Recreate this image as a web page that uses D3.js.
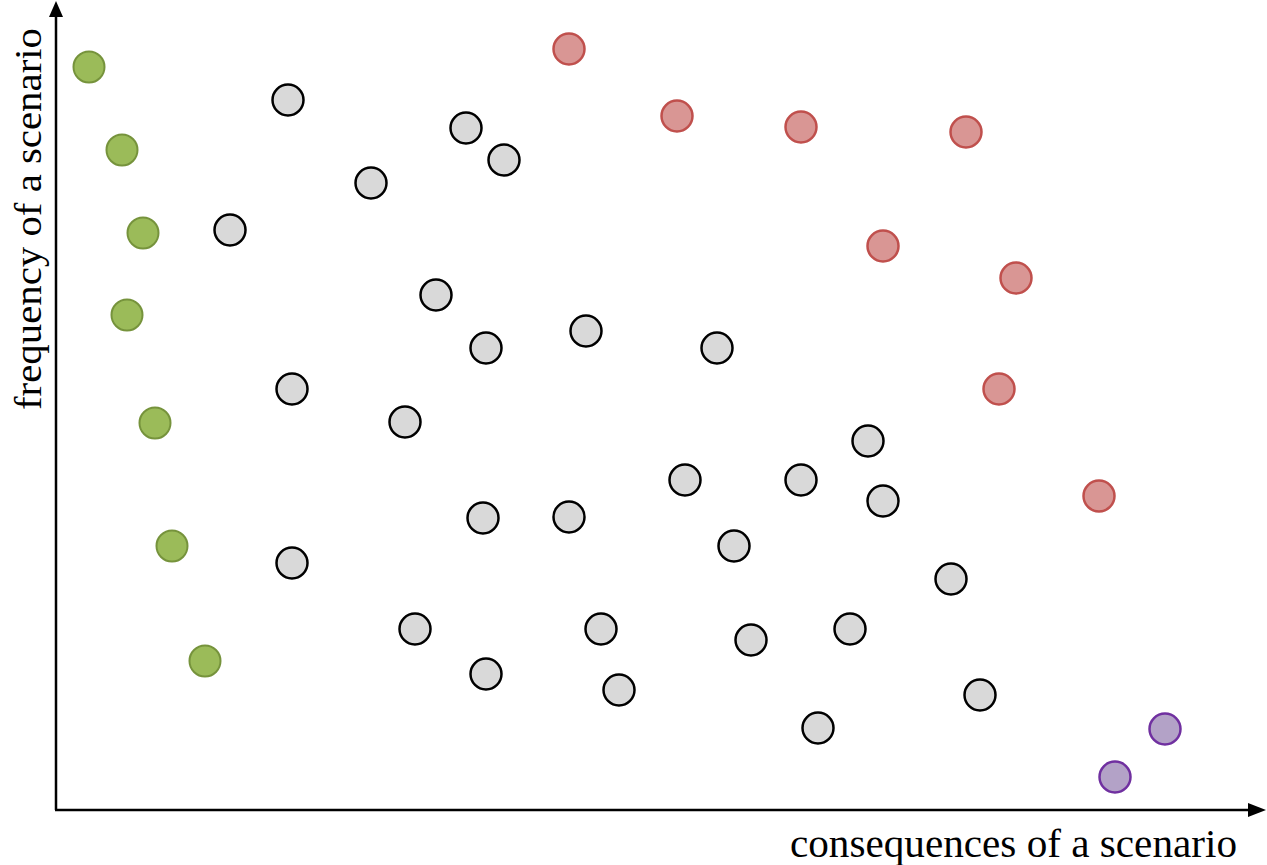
<!DOCTYPE html>
<html><head><meta charset="utf-8">
<script src="https://cdn.jsdelivr.net/npm/d3@7"></script>
<style>body{margin:0;background:#fff}svg{display:block}</style>
</head><body>
<svg id="c" width="1267" height="865"></svg>
<script>
// consequences (x) and frequency (y) in arbitrary units
const greenX = [33, 66, 87, 71, 99, 116, 149];
const greenY = [743, 660, 577, 495, 387, 264, 149];
const redX = [513, 621, 745, 910, 827, 960, 943, 1043];
const redY = [761, 694, 683, 678, 564, 532, 421, 314];
const purpleX = [1109, 1059];
const purpleY = [81, 33];
const grayX = [232, 410, 448, 315, 174, 380, 430, 530, 661, 236, 349, 812, 629, 745, 827, 427, 513, 678, 236, 895, 359, 545, 794, 695, 430, 563, 924, 762];
const grayY = [710, 682, 650, 627, 580, 515, 462, 479, 462, 421, 388, 369, 330, 330, 309, 292, 293, 264, 247, 231, 181, 181, 181, 170, 136, 120, 115, 82];
const xLabel = "consequences of a scenario";
const yLabel = "frequency of a scenario";

const svg = d3.select("#c");
const x = d3.scaleLinear().domain([0, 1206]).range([56, 1262]);
const y = d3.scaleLinear().domain([0, 810]).range([810, 0]);

// axes
svg.append("line").attr("x1", x(0)).attr("y1", y(0)).attr("x2", x(0)).attr("y2", 14)
  .attr("stroke", "#000").attr("stroke-width", 2.5);
svg.append("line").attr("x1", x(0) - 1).attr("y1", y(0)).attr("x2", 1250).attr("y2", y(0))
  .attr("stroke", "#000").attr("stroke-width", 2.5);
svg.append("path").attr("d", `M${x(0)},1 L${x(0)-7},17 L${x(0)+7},17 Z`).attr("fill", "#000");
svg.append("path").attr("d", `M1266,${y(0)} L1248,${y(0)-7} L1248,${y(0)+7} Z`).attr("fill", "#000");

function dots(xs, ys, fill, stroke, sw) {
  svg.append("g").selectAll("circle").data(xs.map((d, i) => [d, ys[i]])).join("circle")
    .attr("cx", d => x(d[0])).attr("cy", d => y(d[1])).attr("r", 15.5)
    .attr("fill", fill).attr("stroke", stroke).attr("stroke-width", sw);
}
dots(grayX, grayY, "#d9d9d9", "#000", 2.5);
dots(greenX, greenY, "#9bbb59", "#76933c", 2);
dots(redX, redY, "#d99694", "#c0504d", 2.5);
dots(purpleX, purpleY, "#b3a2c7", "#7030a0", 2.5);

svg.append("text").attr("x", 790).attr("y", 857).attr("font-family", "Liberation Serif, serif")
  .attr("font-size", 39).attr("textLength", 447).attr("lengthAdjust", "spacingAndGlyphs").text(xLabel);
svg.append("text").attr("transform", "translate(41,410) rotate(-90)").attr("font-family", "Liberation Serif, serif")
  .attr("font-size", 38).attr("textLength", 382).attr("lengthAdjust", "spacingAndGlyphs").text(yLabel);
</script>
</body></html>
